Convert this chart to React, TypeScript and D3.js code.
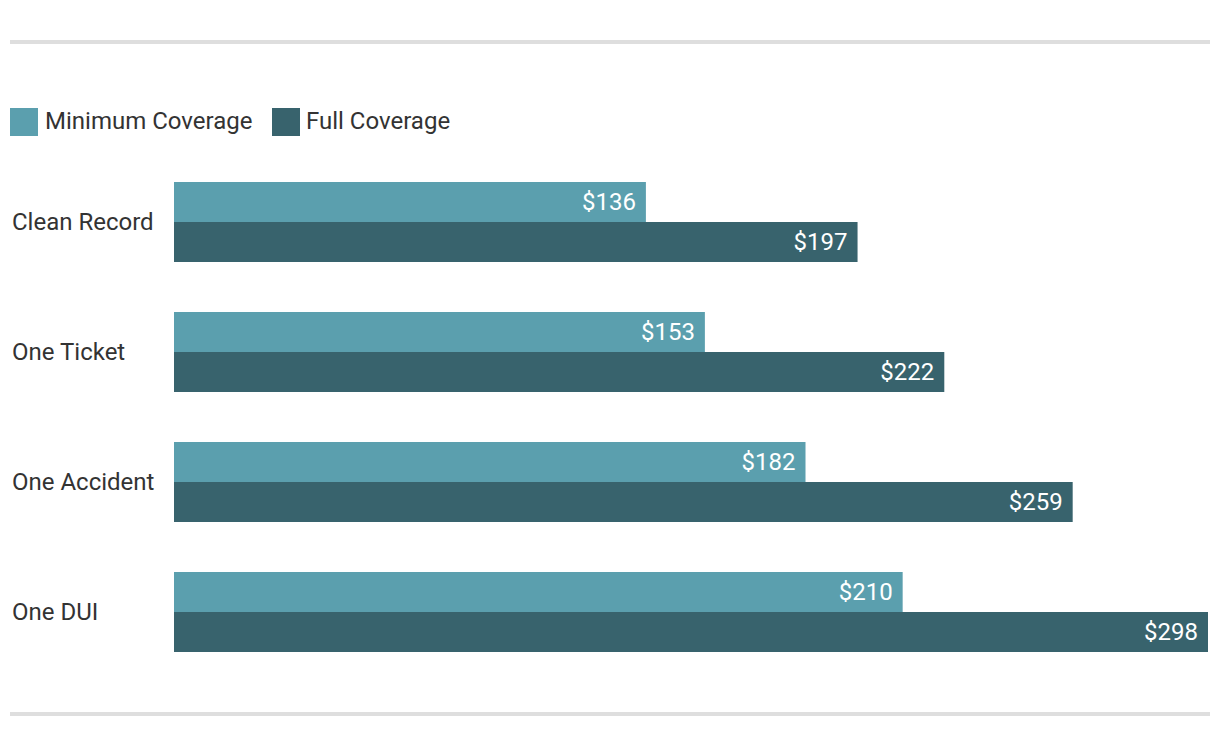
import React from "react";
import * as d3 from "d3";

const categories = ["Clean Record", "One Ticket", "One Accident", "One DUI"];
const minimumCoverage = [136, 153, 182, 210];
const fullCoverage = [197, 222, 259, 298];
const seriesNames = ["Minimum Coverage", "Full Coverage"];
const seriesColors = ["#5b9fae", "#38636d"];

export default function App() {
  const W = 1220, H = 748;
  const x0 = 174, x1 = 1208;
  const x = d3.scaleLinear().domain([0, d3.max(fullCoverage) as number]).range([x0, x1]);
  const y = d3.scaleBand().domain(categories).range([182, 652]).paddingInner(50 / 130).paddingOuter(0);
  const sub = d3.scaleBand().domain(seriesNames).range([0, y.bandwidth()]);
  const series = [minimumCoverage, fullCoverage];
  const font = "Roboto, 'Noto Sans', sans-serif";
  return (
    <svg width={W} height={H} style={{ position: "absolute", left: 0, top: 0 }} fontFamily={font}>
      <rect x={10} y={40} width={1200} height={4} fill="#dedede" />
      <rect x={10} y={712} width={1200} height={4} fill="#dedede" />
      {/* legend */}
      <rect x={10} y={108} width={28} height={28} fill={seriesColors[0]} />
      <text x={45} y={121} dy="0.35em" fontSize={24} fill="#333">{seriesNames[0]}</text>
      <rect x={272} y={108} width={28} height={28} fill={seriesColors[1]} />
      <text x={306} y={121} dy="0.35em" fontSize={24} fill="#333">{seriesNames[1]}</text>
      {categories.map((c, i) => (
        <g key={c}>
          <text x={12} y={(y(c) as number) + y.bandwidth() / 2} dy="0.35em" fontSize={24} fill="#333">{c}</text>
          {series.map((s, j) => {
            const yy = (y(c) as number) + (sub(seriesNames[j]) as number);
            return (
              <g key={j}>
                <rect x={x0} y={yy} width={x(s[i]) - x0} height={sub.bandwidth()} fill={seriesColors[j]} />
                <text x={x(s[i]) - 10} y={yy + sub.bandwidth() / 2} dy="0.35em" textAnchor="end" fontSize={24} fill="#fff">{"$" + s[i]}</text>
              </g>
            );
          })}
        </g>
      ))}
    </svg>
  );
}
